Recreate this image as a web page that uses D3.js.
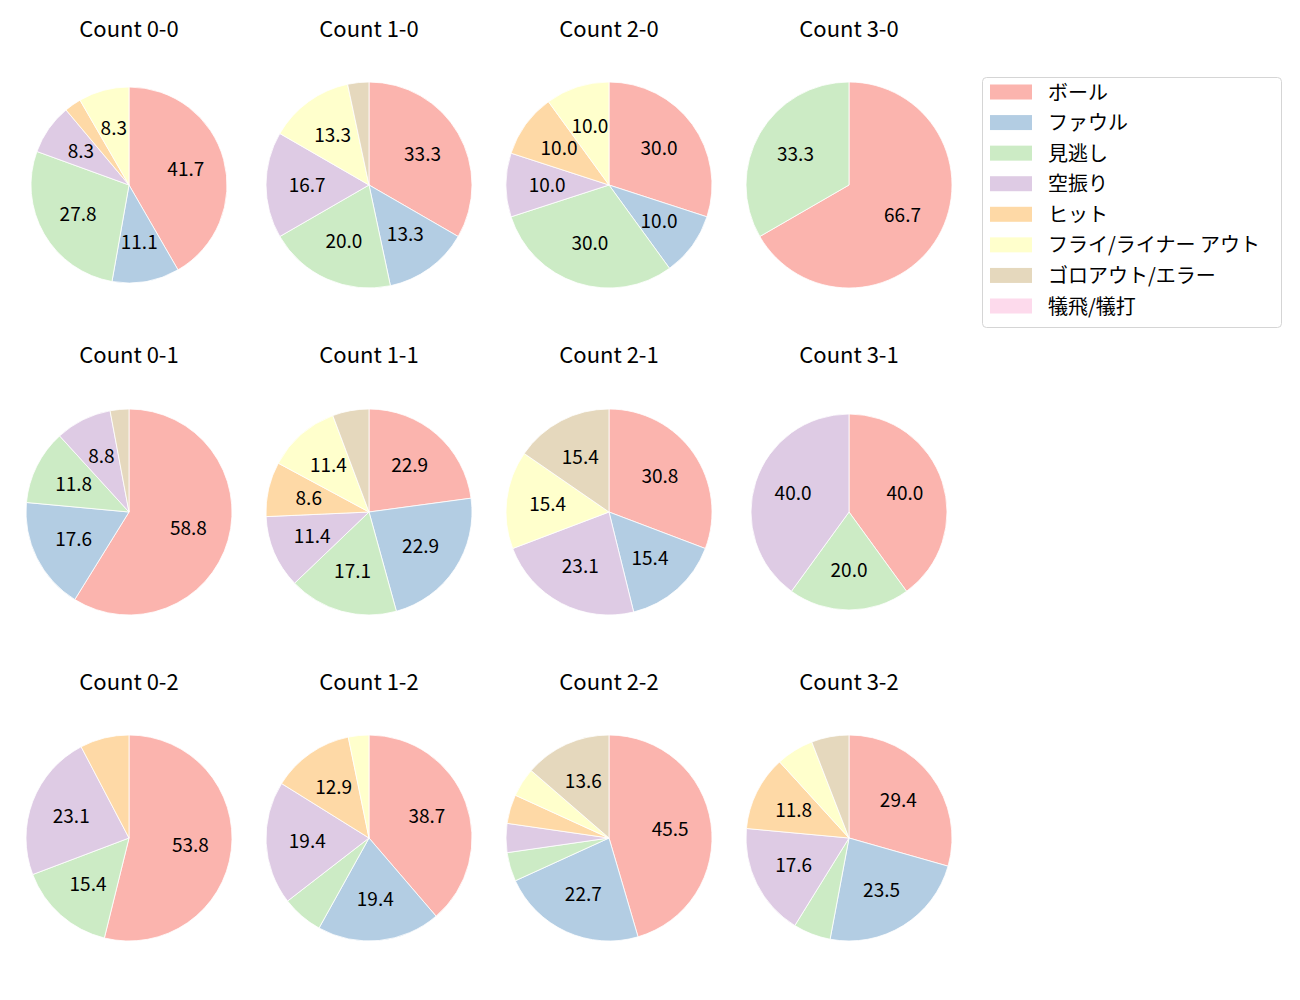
<!DOCTYPE html>
<html>
<head>
<meta charset="utf-8">
<script src="https://cdn.jsdelivr.net/npm/d3@7"></script>
<style>
  html, body { margin: 0; padding: 0; background: #fff; }
  svg text { font-family: "Noto Sans CJK JP", "Noto Sans", sans-serif; fill: #000; }
</style>
</head>
<body>
<svg id="chart" width="1300" height="1000"></svg>
<script>
// ---- data ----
const categories = ["ボール", "ファウル", "見逃し", "空振り", "ヒット", "フライ/ライナー アウト", "ゴロアウト/エラー", "犠飛/犠打"];
const colors = ["#fbb4ae", "#b3cde3", "#ccebc5", "#decbe4", "#fed9a6", "#ffffcc", "#e5d8bd", "#fddaec"];
const titles = ["Count 0-0", "Count 1-0", "Count 2-0", "Count 3-0",
                "Count 0-1", "Count 1-1", "Count 2-1", "Count 3-1",
                "Count 0-2", "Count 1-2", "Count 2-2", "Count 3-2"];
// pitch counts per category (same order as categories)
const count00 = [15, 4, 10, 3, 1, 3, 0, 0];
const count10 = [10, 4, 6, 5, 0, 4, 1, 0];
const count20 = [3, 1, 3, 1, 1, 1, 0, 0];
const count30 = [2, 0, 1, 0, 0, 0, 0, 0];
const count01 = [20, 6, 4, 3, 0, 0, 1, 0];
const count11 = [8, 8, 6, 4, 3, 4, 2, 0];
const count21 = [4, 2, 0, 3, 0, 2, 2, 0];
const count31 = [2, 0, 1, 2, 0, 0, 0, 0];
const count02 = [7, 0, 2, 3, 1, 0, 0, 0];
const count12 = [12, 6, 2, 6, 4, 1, 0, 0];
const count22 = [10, 5, 1, 1, 1, 1, 3, 0];
const count32 = [5, 4, 1, 3, 2, 1, 1, 0];
const seriesList = [count00, count10, count20, count30,
                    count01, count11, count21, count31,
                    count02, count12, count22, count32];

// ---- layout ----
const colX = [129, 369, 609, 849];
const rowY = [185, 512, 838];
const titleY = [37, 363, 690];
const radii = [98, 103, 103, 103, 103, 103, 103, 98, 103, 103, 103, 103];
const labelFont = 19;
const titleFont = 22;
const legendFont = 20;

const svg = d3.select("#chart");

const pie = d3.pie().sort(null).value(d => d.v)
  .startAngle(0).endAngle(2 * Math.PI);

seriesList.forEach((vals, i) => {
  const col = i % 4, row = Math.floor(i / 4);
  const cx = colX[col], cy = rowY[row], r = radii[i];
  const total = d3.sum(vals);
  const data = vals.map((v, k) => ({ v, k })).filter(d => d.v > 0);
  const arcs = pie(data);
  const arc = d3.arc().innerRadius(0).outerRadius(r);
  const labelArc = d3.arc().innerRadius(r * 0.6).outerRadius(r * 0.6);
  const g = svg.append("g").attr("transform", `translate(${cx},${cy})`);
  g.selectAll("path").data(arcs).join("path")
    .attr("d", arc)
    .attr("fill", d => colors[d.data.k])
    .attr("stroke", "#fff")
    .attr("stroke-width", 0.8)
    .attr("stroke-linejoin", "round");
  g.selectAll("text.lbl").data(arcs.filter(d => d.data.v / total * 100 > 8)).join("text")
    .attr("class", "lbl")
    .attr("transform", d => `translate(${labelArc.centroid(d)})`)
    .attr("text-anchor", "middle")
    .attr("dominant-baseline", "central")
    .attr("dy", -2)
    .attr("font-size", labelFont)
    .text(d => (d.data.v / total * 100).toFixed(1));
  svg.append("text")
    .attr("x", cx).attr("y", titleY[row])
    .attr("text-anchor", "middle")
    .attr("font-size", titleFont)
    .text(titles[i]);
});

// ---- legend ----
const lg = svg.append("g").attr("transform", "translate(982,77)");
lg.append("rect")
  .attr("x", 0.5).attr("y", 0.5).attr("width", 299).attr("height", 250)
  .attr("rx", 4).attr("ry", 4)
  .attr("fill", "#fff").attr("stroke", "#d5d5d5").attr("stroke-width", 1);
const ly = d3.scalePoint().domain(categories).range([15, 229]);
categories.forEach((c, k) => {
  lg.append("rect")
    .attr("x", 8).attr("y", ly(c) - 7.5)
    .attr("width", 42).attr("height", 15)
    .attr("fill", colors[k]);
  lg.append("text")
    .attr("x", 66).attr("y", ly(c))
    .attr("dominant-baseline", "central")
    .attr("dy", -1)
    .attr("font-size", legendFont)
    .text(c);
});
</script>
</body>
</html>
